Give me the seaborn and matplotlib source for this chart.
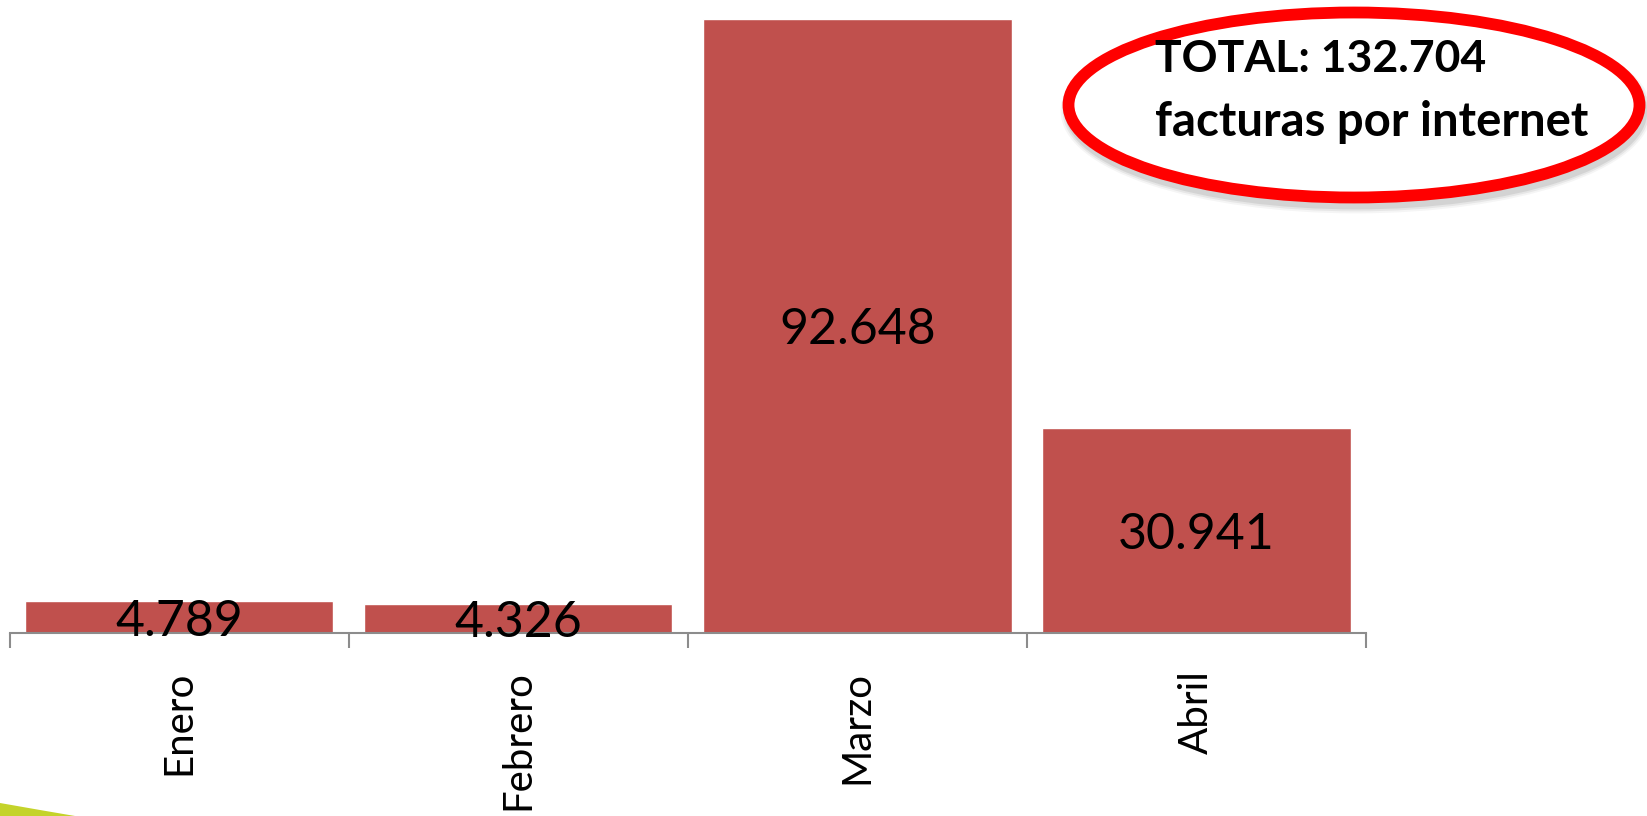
import numpy as np
import matplotlib
matplotlib.use('Agg')
import matplotlib.pyplot as plt
import seaborn as sns
from matplotlib.patches import Ellipse, Polygon

meses = ['Enero', 'Febrero', 'Marzo', 'Abril']
facturas = [4789, 4326, 92648, 30941]

sns.set_style('white')
plt.rcParams['font.family'] = ['Lato', 'DejaVu Sans']
plt.rcParams['text.color'] = 'black'
plt.rcParams['xtick.color'] = 'black'

fig = plt.figure(figsize=(16.47, 8.16), dpi=100)
ax = fig.add_axes([9.5 / 1647, 183 / 816, (1366 - 9.5) / 1647, 633 / 816])

sns.barplot(x=meses, y=facturas, color='#C0504D', saturation=1, width=0.91, ax=ax)
ax.set_xlim(-0.5, 3.5)
ax.set_ylim(0, 95500)

# etiquetas con punto de miles
etiquetas = [f'{v:,}'.replace(',', '.') for v in facturas]
txts = ax.bar_label(ax.containers[0], labels=etiquetas, label_type='center', fontsize=36, color='black')
for t in txts:
    t.set_va('center_baseline')

for s in ['top', 'right', 'left']:
    ax.spines[s].set_visible(False)
ax.spines['bottom'].set_color('#8c8c8c')
ax.spines['bottom'].set_linewidth(1.5)
ax.set_yticks([])
ax.set_xticks(np.arange(-0.5, 4, 1), minor=True)
ax.tick_params(axis='x', which='minor', bottom=True, length=11, width=1.5, color='#8c8c8c', direction='out')
ax.tick_params(axis='x', which='major', bottom=True, length=0, pad=27, labelsize=29, labelrotation=90,
               labelcolor='black')
ax.set_xlabel('')
ax.set_ylabel('')

# elipse con el total
cx, cy = 1354 / 1647, 1 - 105 / 816
w, h = 571 / 1647, 185 / 816
for i, a in enumerate([0.04, 0.06, 0.08]):
    fig.patches.append(Ellipse((cx + 2 / 1647, cy - 6 / 816), w + (8 - 4 * i) / 1647, h + (8 - 4 * i) / 816,
                               transform=fig.transFigure, fill=False, edgecolor='black',
                               linewidth=8.5, alpha=a, zorder=2))
fig.patches.append(Ellipse((cx, cy), w, h, transform=fig.transFigure, facecolor='white',
                           edgecolor='#FF0000', linewidth=8.5, zorder=3))
total = sum(facturas)
fig.text(1155 / 1647, 1 - 72 / 816, 'TOTAL: ' + f'{total:,}'.replace(',', '.'), fontsize=32,
         fontweight='bold', ha='left', va='baseline', color='black', zorder=4)
fig.text(1155 / 1647, 1 - 136 / 816, 'facturas por internet', fontsize=34,
         fontweight='bold', ha='left', va='baseline', color='black', zorder=4)

# adorno verde abajo a la izquierda
fig.patches.append(Polygon([(0, 1 - 803 / 816), (40 / 1647, 1 - 810 / 816), (75 / 1647, 0), (0, 0)],
                           closed=True, transform=fig.transFigure, facecolor='#c4d32a',
                           edgecolor='none', zorder=1))

fig.savefig('out.png', dpi=100)
